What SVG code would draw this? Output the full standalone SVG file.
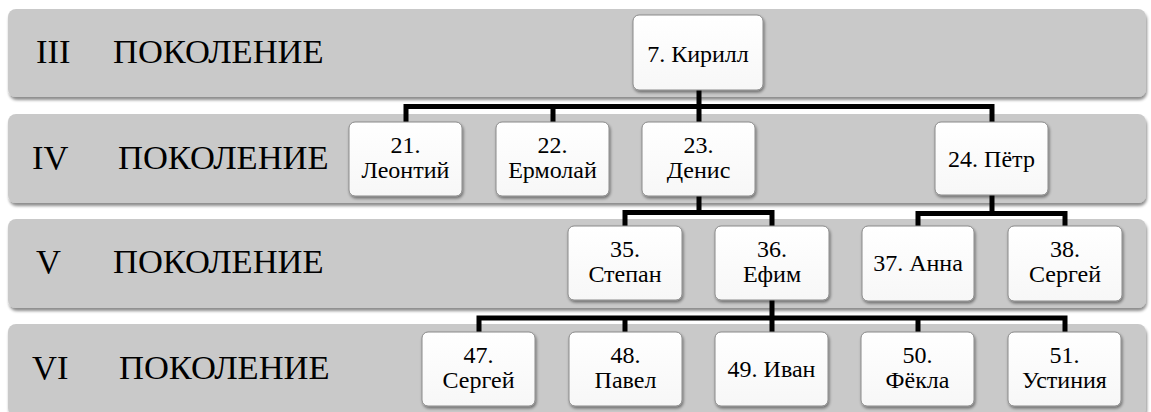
<svg xmlns="http://www.w3.org/2000/svg" width="1151" height="412" viewBox="0 0 1151 412">
<defs>
<filter id="bsh" x="-5%" y="-20%" width="110%" height="150%">
<feGaussianBlur in="SourceAlpha" stdDeviation="1.8"/>
<feOffset dx="1" dy="3" result="b"/>
<feComponentTransfer><feFuncA type="linear" slope="0.45"/></feComponentTransfer>
<feMerge><feMergeNode/><feMergeNode in="SourceGraphic"/></feMerge>
</filter>
<filter id="nsh" x="-20%" y="-20%" width="140%" height="150%">
<feGaussianBlur in="SourceAlpha" stdDeviation="1.5"/>
<feOffset dx="1" dy="2" result="b"/>
<feComponentTransfer><feFuncA type="linear" slope="0.45"/></feComponentTransfer>
<feMerge><feMergeNode/><feMergeNode in="SourceGraphic"/></feMerge>
</filter>
<linearGradient id="ng" x1="0" y1="0" x2="0" y2="1">
<stop offset="0" stop-color="#ffffff"/>
<stop offset="1" stop-color="#f7f7f7"/>
</linearGradient>
</defs>
<style>
text{font-family:'Liberation Serif','Times New Roman','DejaVu Serif',Times,serif}
.band{fill:#c9c9c9;filter:url(#bsh)}
.lab{font-size:34.5px;fill:#000}
.node rect{fill:url(#ng);stroke:#8a8a8a;stroke-width:1;filter:url(#nsh)}
.node text{font-size:24px;fill:#000;text-anchor:middle}
.conn{fill:none;stroke:#000;stroke-width:5;stroke-linejoin:miter;stroke-linecap:butt}
</style>
<rect width="1151" height="412" fill="#ffffff"/>
<g id="bands">
<rect class="band" x="8" y="9" width="1138" height="88" rx="8"/>
<rect class="band" x="8" y="114" width="1138" height="89" rx="8"/>
<rect class="band" x="8" y="219" width="1138" height="89" rx="8"/>
<rect class="band" x="8" y="324" width="1138" height="92" rx="8"/>
</g>
<g id="labels">
<text class="lab" x="36" y="63">III</text>
<text class="lab" x="113" y="63">ПОКОЛЕНИЕ</text>
<text class="lab" x="32" y="169">IV</text>
<text class="lab" x="118" y="169">ПОКОЛЕНИЕ</text>
<text class="lab" x="36" y="273">V</text>
<text class="lab" x="113" y="273">ПОКОЛЕНИЕ</text>
<text class="lab" x="32" y="379">VI</text>
<text class="lab" x="119" y="379">ПОКОЛЕНИЕ</text>
</g>
<g id="connectors">
<path class="conn" d="M699 90 V106.5 M406 124 V106.5 H992 V124 M553 106.5 V124 M699 106.5 V124"/>
<path class="conn" d="M699 196 V212.5 M625 228 V212.5 H772 V228"/>
<path class="conn" d="M992 195 V213.5 M918 228 V213.5 H1065 V228"/>
<path class="conn" d="M772 300 V318 M479 334 V318 H1065 V334 M625 318 V334 M772 318 V334 M918 318 V334"/>
</g>
<g id="n7" class="node"><rect x="633" y="15" width="130" height="75" rx="6"/><text x="698" y="62">7. Кирилл</text></g>
<g id="n21" class="node"><rect x="349" y="122" width="113" height="74" rx="6"/><text x="405.5" y="153">21.</text><text x="405.5" y="178">Леонтий</text></g>
<g id="n22" class="node"><rect x="496" y="122" width="113" height="74" rx="6"/><text x="552.5" y="153">22.</text><text x="552.5" y="178">Ермолай</text></g>
<g id="n23" class="node"><rect x="642" y="122" width="113" height="74" rx="6"/><text x="698.5" y="153">23.</text><text x="698.5" y="178">Денис</text></g>
<g id="n24" class="node"><rect x="935" y="122" width="113" height="73" rx="6"/><text x="991.5" y="167">24. Пётр</text></g>
<g id="n35" class="node"><rect x="568" y="226" width="114" height="74" rx="6"/><text x="625" y="257">35.</text><text x="625" y="282">Степан</text></g>
<g id="n36" class="node"><rect x="715" y="226" width="114" height="74" rx="6"/><text x="772" y="257">36.</text><text x="772" y="282">Ефим</text></g>
<g id="n37" class="node"><rect x="862" y="226" width="112" height="75" rx="6"/><text x="918" y="271">37. Анна</text></g>
<g id="n38" class="node"><rect x="1008" y="226" width="114" height="75" rx="6"/><text x="1065" y="257">38.</text><text x="1065" y="282">Сергей</text></g>
<g id="n47" class="node"><rect x="422" y="332" width="113" height="74" rx="6"/><text x="478.5" y="363">47.</text><text x="478.5" y="388">Сергей</text></g>
<g id="n48" class="node"><rect x="569" y="332" width="113" height="74" rx="6"/><text x="625.5" y="363">48.</text><text x="625.5" y="388">Павел</text></g>
<g id="n49" class="node"><rect x="715" y="332" width="113" height="74" rx="6"/><text x="771.5" y="377">49. Иван</text></g>
<g id="n50" class="node"><rect x="861" y="332" width="113" height="74" rx="6"/><text x="917.5" y="363">50.</text><text x="917.5" y="388">Фёкла</text></g>
<g id="n51" class="node"><rect x="1008" y="332" width="113" height="74" rx="6"/><text x="1064.5" y="363">51.</text><text x="1064.5" y="388">Устиния</text></g>
</svg>
